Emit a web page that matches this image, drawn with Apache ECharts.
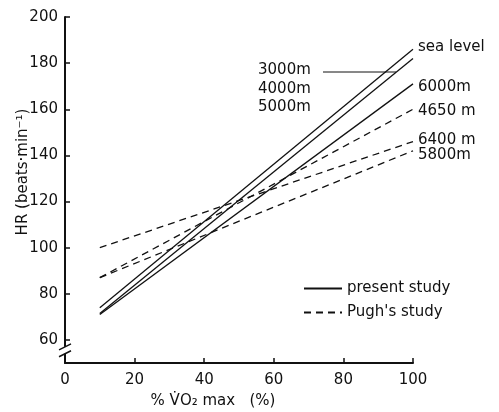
<!DOCTYPE html>
<html>
<head>
<meta charset="utf-8">
<script src="https://cdn.jsdelivr.net/npm/echarts@6/dist/echarts.min.js"></script>
<style>html,body{margin:0;background:#fff}#main{width:499px;height:412px}</style>
</head>
<body>
<div id="main"></div>
<script>
// 데이터
var xPoints = [10, 100];
var seaLevel = [74, 186];
var alt3000to5000 = [71.5, 182];
var alt6000 = [71, 171];
var pugh4650 = [87, 160];
var pugh6400 = [100, 146];
var pugh5800 = [87, 142];
var yTicks = [60, 80, 100, 120, 140, 160, 180, 200];

var ink = '#111';
var font = 'DejaVu Sans';

function pairs(vals) {
    return xPoints.map(function (x, i) { return [x, vals[i]]; });
}

function makeLine(name, vals, dashed, label, offset) {
    return {
        name: name,
        type: 'line',
        data: pairs(vals),
        symbol: 'none',
        silent: true,
        lineStyle: { color: ink, width: 1.3, type: dashed ? [7, 5] : 'solid' },
        itemStyle: { color: ink },
        endLabel: {
            show: !!label,
            formatter: label || '',
            color: ink,
            fontFamily: font,
            fontSize: 15,
            distance: 5,
            offset: offset || [0, 0]
        }
    };
}

var myChart = echarts.init(document.getElementById('main'));

var option = {
    animation: false,
    grid: { left: 65, right: 86, top: 17, bottom: 49, containLabel: false, outerBoundsMode: 'none' },
    legend: {
        orient: 'vertical',
        left: 298,
        top: 276,
        itemWidth: 38,
        itemHeight: 14,
        itemGap: 9,
        itemStyle: { opacity: 0 },
        data: ['present study', "Pugh's study"],
        textStyle: { color: ink, fontFamily: font, fontSize: 15 }
    },
    xAxis: {
        type: 'value',
        min: 0,
        max: 100,
        interval: 20,
        name: '% V̇O₂ max   (%)',
        nameLocation: 'middle',
        nameGap: 31,
        nameTextStyle: { color: ink, fontFamily: font, fontSize: 15, padding: [0, 52, 0, 0] },
        axisLine: { lineStyle: { color: ink, width: 2 } },
        axisTick: { inside: true, length: 5, lineStyle: { color: ink, width: 1.5 } },
        axisLabel: { color: ink, fontFamily: font, fontSize: 15, margin: 10 },
        splitLine: { show: false }
    },
    yAxis: {
        type: 'value',
        min: 50,
        max: 200,
        name: 'HR (beats·min⁻¹)',
        nameLocation: 'middle',
        nameGap: 34,
        nameMoveOverlap: false,
        nameTextStyle: { color: ink, fontFamily: font, fontSize: 15, padding: [0, 0, 0, 36] },
        axisLine: { lineStyle: { color: ink, width: 2 } },
        axisTick: { inside: true, length: 5, customValues: yTicks, lineStyle: { color: ink, width: 1.5 } },
        axisLabel: { color: ink, fontFamily: font, fontSize: 15, margin: 7, customValues: yTicks },
        splitLine: { show: false }
    },
    series: [
        makeLine('present study', seaLevel, false, 'sea level', [0, -2]),
        makeLine('present study', alt3000to5000, false, null),
        makeLine('present study', alt6000, false, '6000m', [0, 3]),
        makeLine("Pugh's study", pugh4650, true, '4650 m', [0, 2]),
        makeLine("Pugh's study", pugh6400, true, '6400 m', [0, -1]),
        makeLine("Pugh's study", pugh5800, true, '5800m', [0, 4])
    ]
};

myChart.setOption(option);

// 고도 라벨 + 축 생략 표시
var b1 = myChart.convertToPixel({ gridIndex: 0 }, [0, 57]);
var b2 = myChart.convertToPixel({ gridIndex: 0 }, [0, 54]);
myChart.setOption({
    graphic: [
        { type: 'text', left: 258, top: 63, style: { text: '3000m', fill: ink, font: '15px "DejaVu Sans"' } },
        { type: 'text', left: 258, top: 82, style: { text: '4000m', fill: ink, font: '15px "DejaVu Sans"' } },
        { type: 'text', left: 258, top: 100, style: { text: '5000m', fill: ink, font: '15px "DejaVu Sans"' } },
        { type: 'line', shape: { x1: 323, y1: 72, x2: 396, y2: 72 }, style: { stroke: ink, lineWidth: 1 } },
        { type: 'rect', shape: { x: b1[0] - 2, y: b1[1], width: 4, height: b2[1] - b1[1] }, style: { fill: '#fff' }, z: 100 },
        { type: 'line', shape: { x1: b1[0] - 6, y1: b1[1] + 3, x2: b1[0] + 6, y2: b1[1] - 3 }, style: { stroke: ink, lineWidth: 1.5 }, z: 101 },
        { type: 'line', shape: { x1: b2[0] - 6, y1: b2[1] + 3, x2: b2[0] + 6, y2: b2[1] - 3 }, style: { stroke: ink, lineWidth: 1.5 }, z: 101 }
    ]
});

window.addEventListener('resize', function () {
    myChart.resize();
});
</script>
</body>
</html>
